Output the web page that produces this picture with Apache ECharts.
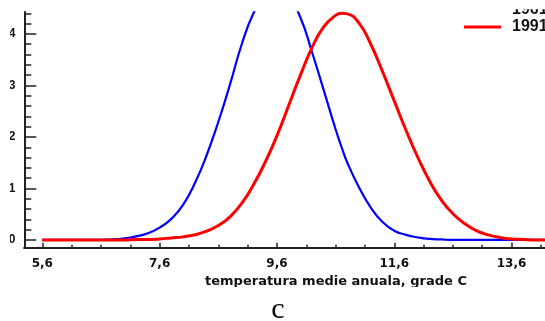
<!DOCTYPE html>
<html>
<head>
<meta charset="utf-8">
<script src="https://cdn.jsdelivr.net/npm/echarts@6/dist/echarts.min.js"></script>
<style>
  html, body { margin: 0; padding: 0; background: #fff; }
  #chart { width: 545px; height: 321px; }
</style>
</head>
<body>
<div id="chart"></div>
<script>
// temperatura medie anuala (grade C) — comun pentru ambele curbe
const temperature = [5.6, 6.0, 6.4, 6.8, 7.0, 7.2, 7.4, 7.6, 7.8, 8.0, 8.2, 8.4, 8.6, 8.8, 9.0,
  9.2, 9.4, 9.6, 9.8, 10.0, 10.2, 10.4, 10.6, 10.7, 10.8, 11.0, 11.2, 11.4, 11.6, 11.8, 12.0,
  12.2, 12.4, 12.6, 12.8, 13.0, 13.2, 13.4, 13.6, 13.8, 14.0, 14.2];
const values1961 = [0, 0, 0, 0.01, 0.03, 0.07, 0.13, 0.24, 0.41, 0.68, 1.10, 1.64, 2.29, 3.02, 3.80,
  4.40, 4.76, 4.86, 4.72, 4.32, 3.64, 2.90, 2.15, 1.81, 1.50, 1.02, 0.63, 0.35, 0.18, 0.10, 0.05,
  0.02, 0.01, 0, 0, 0, 0, 0, 0, 0, 0, 0];
const values1991 = [0, 0, 0, 0, 0, 0.01, 0.01, 0.02, 0.04, 0.06, 0.10, 0.17, 0.28, 0.45, 0.71,
  1.07, 1.51, 2.02, 2.61, 3.20, 3.74, 4.14, 4.36, 4.40, 4.39, 4.21, 3.80, 3.27, 2.70, 2.13, 1.61,
  1.15, 0.78, 0.51, 0.32, 0.18, 0.10, 0.05, 0.02, 0.01, 0, 0];
const seriesNames = ['1961', '1991'];
const xMajorTicks = [5.6, 7.6, 9.6, 11.6, 13.6];
const xMinorTicks = [6.1, 6.6, 7.1, 8.1, 8.6, 9.1, 10.1, 10.6, 11.1, 12.1, 12.6, 13.1, 14.1];
const yMajorTicks = [0, 1, 2, 3, 4];
const yMinorTicks = [0.2, 0.4, 0.6, 0.8, 1.2, 1.4, 1.6, 1.8, 2.2, 2.4, 2.6, 2.8,
  3.2, 3.4, 3.6, 3.8, 4.2, 4.4];

const X_MIN = 5.293, X_MAX = 14.17;
const Y_MIN = -0.15, Y_MAX = 4.42;
const AXIS_COLOR = '#222';
const SANS = '"Liberation Sans", Arial, sans-serif';
const WIDE = '"DejaVu Sans", Verdana, sans-serif';

const chart = echarts.init(document.getElementById('chart'));

const pairs = (ys) => temperature.map((t, i) => [t, ys[i]]);
const comma = (v) => v.toFixed(1).replace('.', ',');

const baseX = {
  type: 'value', min: X_MIN, max: X_MAX, position: 'bottom',
  splitLine: { show: false },
  axisLine: { onZero: false, show: true, lineStyle: { color: AXIS_COLOR, width: 2 } },
};
const baseY = {
  type: 'value', min: Y_MIN, max: Y_MAX, position: 'left',
  splitLine: { show: false },
  axisLine: { show: true, lineStyle: { color: AXIS_COLOR, width: 2 } },
};

chart.setOption({
  animation: false,
  grid: { left: 24.3, top: 12.3, right: 0, bottom: 73.3, containLabel: false, outerBoundsMode: 'none' },
  xAxis: [
    {
      ...baseX,
      axisTick: { show: true, inside: true, length: 5, customValues: xMajorTicks,
        lineStyle: { color: AXIS_COLOR, width: 1.5 } },
      axisLabel: { customValues: xMajorTicks, formatter: comma, margin: 10,
        fontFamily: WIDE, fontWeight: 'bold', fontSize: 12, color: '#111' },
    },
    {
      ...baseX,
      axisTick: { show: true, inside: true, length: 3, customValues: xMinorTicks,
        lineStyle: { color: AXIS_COLOR, width: 1.5 } },
      axisLabel: { show: false },
    },
  ],
  yAxis: [
    {
      ...baseY,
      axisTick: { show: true, inside: true, length: 12, customValues: yMajorTicks,
        lineStyle: { color: AXIS_COLOR, width: 1.5 } },
      axisLabel: { customValues: yMajorTicks, margin: 9,
        fontFamily: SANS, fontWeight: 'bold', fontSize: 12, color: '#111' },
    },
    {
      ...baseY,
      axisTick: { show: true, inside: true, length: 7, customValues: yMinorTicks,
        lineStyle: { color: AXIS_COLOR, width: 1.5 } },
      axisLabel: { show: false },
    },
  ],
  legend: {
    data: seriesNames,
    orient: 'vertical',
    left: 464, top: 1.5,
    padding: 0,
    itemGap: 1.5,
    itemWidth: 37, itemHeight: 3,
    icon: 'rect',
    selectedMode: false,
    textStyle: { fontFamily: SANS, fontWeight: 'bold', fontSize: 16, lineHeight: 16,
      color: '#111', padding: [0, 0, 0, 6] },
  },
  series: [
    {
      name: seriesNames[0], type: 'line', data: pairs(values1961),
      smooth: 0.5, symbol: 'none', clip: true,
      lineStyle: { color: '#0000ff', width: 2.2 }, itemStyle: { color: '#0000ff' },
    },
    {
      name: seriesNames[1], type: 'line', data: pairs(values1991),
      smooth: 0.5, symbol: 'none', clip: true,
      lineStyle: { color: '#ff0000', width: 3 }, itemStyle: { color: '#ff0000' },
    },
  ],
  graphic: [
    { type: 'text', x: 336, y: 282, z: 50,
      style: { text: 'temperatura medie anuala, grade C', textAlign: 'center', textVerticalAlign: 'middle',
        font: 'bold 13px ' + WIDE, fill: '#111' } },
    { type: 'text', x: 278, y: 310, z: 50,
      style: { text: 'c', textAlign: 'center', textVerticalAlign: 'middle',
        font: '30px "Liberation Serif", "Times New Roman", serif', fill: '#000' } },
    // marginile taiate ale imaginii originale
    { type: 'rect', z: 100, shape: { x: 420, y: 0, width: 88, height: 12 }, style: { fill: '#fff' } },
    { type: 'rect', z: 100, shape: { x: 508, y: 0, width: 37, height: 9.3 }, style: { fill: '#fff' } },
    { type: 'rect', z: 100, shape: { x: 0, y: 0, width: 10, height: 250 }, style: { fill: '#fff' } },
    { type: 'rect', z: 100, shape: { x: 180, y: 287, width: 320, height: 10 }, style: { fill: '#fff' } },
  ],
});
</script>
</body>
</html>
